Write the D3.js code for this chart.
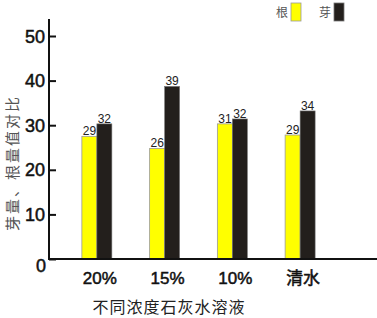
<!DOCTYPE html>
<html>
<head>
<meta charset="utf-8">
<script src="https://cdn.jsdelivr.net/npm/d3@7"></script>
<style>
  body { margin: 0; background: #fff; }
  svg { display: block; }
</style>
</head>
<body>
<svg width="377" height="318"></svg>
<script>
// data
var categories = ["20%", "15%", "10%", "清水"];
var rootValues = [27.5, 24.8, 30.3, 27.8];     // 根, drawn heights
var sproutValues = [30.3, 38.7, 31.4, 33.2];   // 芽, drawn heights
var rootLabels = ["29", "26", "31", "29"];
var sproutLabels = ["32", "39", "32", "34"];
var yTicks = [0, 10, 20, 30, 40, 50];

var svg = d3.select("svg");

var y = d3.scaleLinear().domain([0, 50]).range([259, 36]);
var x = d3.scaleBand().domain(categories).range([63, 334]);
var barW = 15;
var latin = "Arial, 'Liberation Sans', sans-serif";
var cjk = "'Noto Sans CJK SC', sans-serif";

var rows = categories.map(function(c, i) {
    return {cat: c, root: rootValues[i], sprout: sproutValues[i], rl: rootLabels[i], sl: sproutLabels[i]};
});

// bars
var grp = svg.append("g").selectAll("g.grp")
    .data(rows)
    .enter().append("g")
    .attr("class", "grp")
    .attr("transform", function(d) { return "translate(" + (x(d.cat) + x.bandwidth() / 2) + ",0)"; });

grp.append("rect")
    .attr("x", -barW)
    .attr("y", function(d) { return y(d.root); })
    .attr("width", barW)
    .attr("height", function(d) { return y(0) - y(d.root); })
    .attr("fill", "#ffff00")
    .attr("stroke", "#9a9a9a")
    .attr("stroke-width", 0.8);

grp.append("rect")
    .attr("x", 0)
    .attr("y", function(d) { return y(d.sprout); })
    .attr("width", barW)
    .attr("height", function(d) { return y(0) - y(d.sprout); })
    .attr("fill", "#231f1c")
    .attr("stroke", "#777")
    .attr("stroke-width", 0.6);

grp.append("text")
    .attr("x", -barW / 2)
    .attr("y", function(d) { return y(d.root) - 1; })
    .attr("text-anchor", "middle")
    .attr("font-family", latin)
    .attr("font-size", 12)
    .attr("fill", "#222")
    .text(function(d) { return d.rl; });

grp.append("text")
    .attr("x", barW / 2)
    .attr("y", function(d) { return y(d.sprout) - 1; })
    .attr("text-anchor", "middle")
    .attr("font-family", latin)
    .attr("font-size", 12)
    .attr("fill", "#222")
    .text(function(d) { return d.sl; });

// y axis
var yAxis = d3.axisRight(y).tickValues(yTicks).tickSize(7).tickFormat("");
var ya = svg.append("g").attr("transform", "translate(49,0)").call(yAxis);
ya.select(".domain").remove();
ya.selectAll("line").attr("stroke", "#111").attr("stroke-width", 2);
svg.append("line").attr("x1", 49).attr("x2", 49).attr("y1", 19).attr("y2", 260)
    .attr("stroke", "#111").attr("stroke-width", 2);

svg.append("g").selectAll("text")
    .data(yTicks)
    .enter().append("text")
    .attr("x", function(d) { return d === 0 ? 46 : 45; })
    .attr("y", function(d) { return d === 0 ? y(d) + 13 : y(d) + 6.5; })
    .attr("text-anchor", "end")
    .attr("font-family", latin)
    .attr("font-size", 18)
    .attr("fill", "#111")
    .attr("stroke", "#111")
    .attr("stroke-width", 0.5)
    .text(function(d) { return d; });

// x axis
svg.append("line").attr("x1", 48).attr("x2", 377).attr("y1", 259).attr("y2", 259)
    .attr("stroke", "#111").attr("stroke-width", 2);

svg.append("g").selectAll("text")
    .data(categories)
    .enter().append("text")
    .attr("x", function(d) { return x(d) + x.bandwidth() / 2 + 3; })
    .attr("y", 284)
    .attr("text-anchor", "middle")
    .attr("font-family", "Arial, 'Liberation Sans', 'Noto Sans CJK SC', sans-serif")
    .attr("font-size", 17)
    .attr("fill", "#111")
    .attr("stroke", "#111")
    .attr("stroke-width", 0.5)
    .text(function(d) { return d; });

// axis titles
svg.append("text")
    .attr("transform", "translate(18,163) rotate(-90)")
    .attr("text-anchor", "middle")
    .attr("font-family", cjk)
    .attr("font-size", 15)
    .attr("letter-spacing", 2)
    .attr("fill", "#555")
    .text("芽量、根量值对比");

svg.append("text")
    .attr("x", 169)
    .attr("y", 313)
    .attr("text-anchor", "middle")
    .attr("font-family", cjk)
    .attr("font-size", 16)
    .attr("letter-spacing", 1)
    .attr("fill", "#222")
    .text("不同浓度石灰水溶液");

// legend
var legend = [["根", "#ffff00", "#9a9a9a", 291], ["芽", "#231f1c", "#777", 334]];
var lg = svg.append("g").selectAll("g")
    .data(legend)
    .enter().append("g");
lg.append("rect")
    .attr("x", function(d) { return d[3]; })
    .attr("y", 3)
    .attr("width", 10)
    .attr("height", 18)
    .attr("fill", function(d) { return d[1]; })
    .attr("stroke", function(d) { return d[2]; })
    .attr("stroke-width", 0.8);
lg.append("text")
    .attr("x", function(d) { return d[3] - 3; })
    .attr("y", 17)
    .attr("text-anchor", "end")
    .attr("font-family", cjk)
    .attr("font-size", 12)
    .attr("fill", "#555")
    .text(function(d) { return d[0]; });
</script>
</body>
</html>
